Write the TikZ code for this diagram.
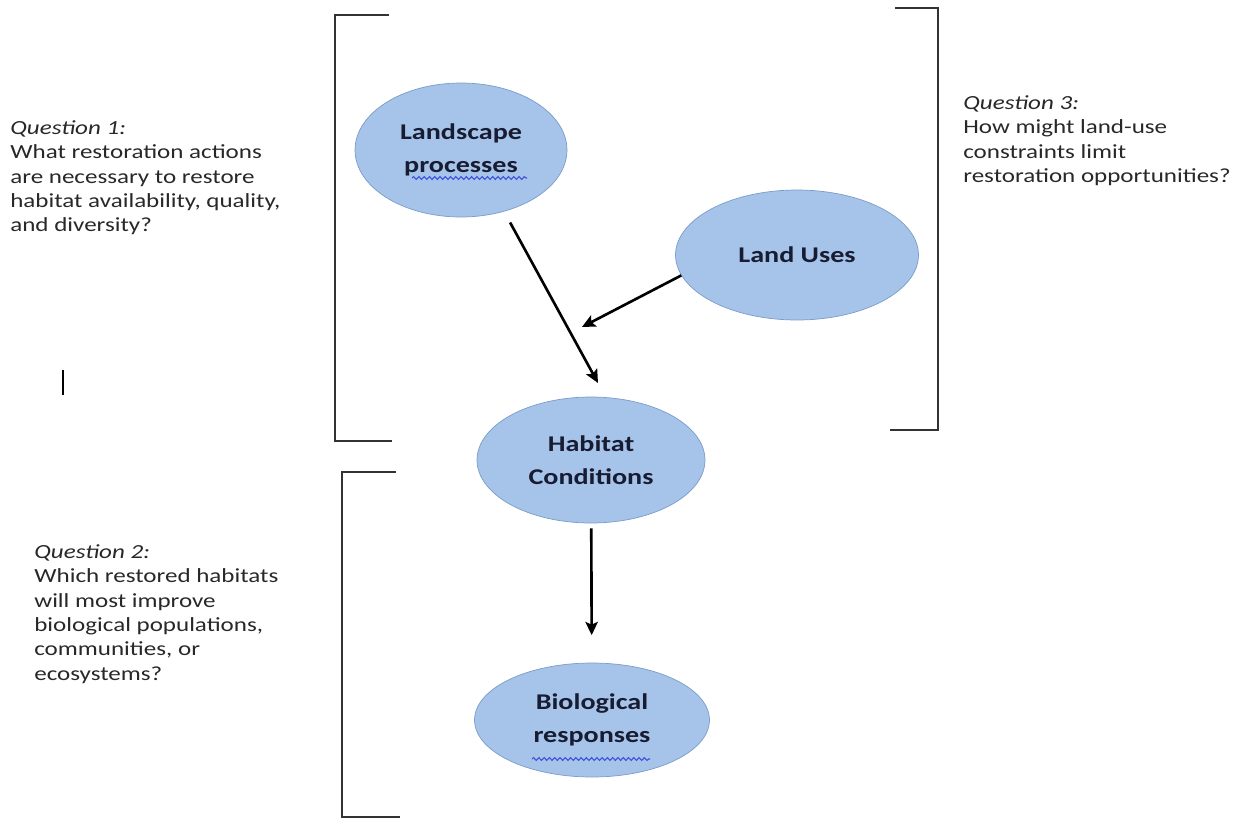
\documentclass[tikz,border=0pt]{standalone}
\usepackage{fontspec}
\setmainfont{Carlito}[FakeStretch=1.25]
\usetikzlibrary{shapes,arrows,arrows.meta,positioning,decorations.pathmorphing}
\definecolor{bubble}{RGB}{166,196,233}
\definecolor{bubbleline}{RGB}{122,156,201}
\definecolor{labeltext}{RGB}{24,28,50}
\definecolor{qtext}{RGB}{40,40,40}
\definecolor{spell}{RGB}{60,80,220}

\begin{document}
\begin{tikzpicture}[x=0.02cm,y=-0.02cm,
	bubble/.style={ellipse,draw=bubbleline,fill=bubble,inner sep=0pt,align=center,text=labeltext,font=\fontsize{12.8}{19}\selectfont\bfseries},
	question/.style={anchor=north west,inner sep=0pt,align=left,text=qtext,font=\fontsize{11.4}{13.9}\selectfont},
	flow/.style={-{Stealth[length=7.5pt,width=7pt,inset=1.5pt]},line width=1.5pt},
	bracket/.style={line width=1.1pt,black!80},
	squiggle/.style={spell,line width=0.6pt,decorate,decoration={snake,amplitude=0.8pt,segment length=3pt}}]
	\useasboundingbox (0,0) rectangle (1245,819);

	% ellipses
	\node[bubble,minimum width=4.24cm,minimum height=2.68cm] (land) at (461,150) {Landscape\\processes};
	\node[bubble,minimum width=4.86cm,minimum height=2.6cm] (uses) at (797,255) {Land Uses};
	\node[bubble,minimum width=4.56cm,minimum height=2.52cm] (hab) at (591,460) {Habitat\\Conditions};
	\node[bubble,minimum width=4.7cm,minimum height=2.28cm] (bio) at (592,720) {Biological\\responses};

	% spell check marks
	\draw[squiggle] (412,178) -- (527,178);
	\draw[squiggle] (532,759) -- (650,759);

	% arrows
	\coordinate (hab-in) at (598,383);
	\coordinate (mid-in) at (582,327);
	\draw[flow,shorten <=0.25cm] (land.-55) -- (hab-in);
	\draw[flow] (uses.190) -- (mid-in);
	\draw[flow,shorten <=0.1cm,shorten >=0.55cm] (hab) -- (bio);

	% brackets
	\draw[bracket] (389,15) -- (335,15) -- (335,441) -- (392,441);
	\draw[bracket] (895,8) -- (938,8) -- (938,430) -- (890,430);
	\draw[bracket] (396,472) -- (342,472) -- (342,817) -- (400,817);

	% questions
	\node[question] (q1) at (10,120) {\textit{Question 1:}\\What restoration actions\\are necessary to restore\\habitat availability, quality,\\and diversity?};
	\node[question] (q3) at (963,95) {\textit{Question 3:}\\How might land-use\\constraints limit\\restoration opportunities?};
	\node[question] (q2) at (34,544) {\textit{Question 2:}\\Which restored habitats\\will most improve\\biological populations,\\communities, or\\ecosystems?};

	\draw[line width=0.8pt] (63,370) -- (63,395);
\end{tikzpicture}
\end{document}
